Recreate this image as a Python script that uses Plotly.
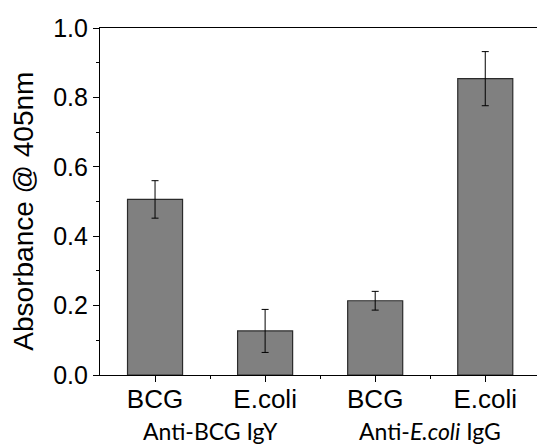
import plotly.graph_objects as go

categories = ["BCG", "E.coli", "BCG", "E.coli"]
positions = [1, 2, 3, 4]
values = [0.506, 0.127, 0.214, 0.854]
errors = [0.054, 0.062, 0.027, 0.078]
group_labels = ["Anti-BCG IgY", "Anti-<i>E.coli</i> IgG"]
group_positions = [1.5, 3.5]
y_ticks = [0.0, 0.2, 0.4, 0.6, 0.8, 1.0]
y_title = "Absorbance @ 405nm"

fig = go.Figure()
fig.add_trace(go.Bar(
    x=positions, y=values, width=0.5,
    marker=dict(color="#808080", line=dict(color="#2b2b2b", width=1.2)),
    error_y=dict(type="data", array=errors, visible=True, color="#000000",
                 thickness=1, width=3.5),
))

for gx, gl in zip(group_positions, group_labels):
    fig.add_annotation(x=gx, xref="x", y=-0.162, yref="paper", text=gl,
                       showarrow=False, yanchor="middle",
                       font=dict(family="Lato", size=23, color="#000000"))

fig.add_annotation(x=-0.176, xref="paper", y=0.471, yref="paper", text=y_title,
                   showarrow=False, textangle=-90, xanchor="center", yanchor="middle",
                   font=dict(family="Liberation Sans, Arial", size=28, color="#000000"))

fig.update_layout(
    width=537, height=445,
    margin=dict(l=100, r=0, t=28, b=70, autoexpand=False),
    paper_bgcolor="white", plot_bgcolor="white",
    showlegend=False,
    font=dict(family="Liberation Sans, Arial", color="#000000"),
)
fig.update_xaxes(
    range=[0.5, 4.47], tickvals=positions, ticktext=categories,
    showline=True, linecolor="#000000", linewidth=1.2, mirror=True,
    ticks="outside", ticklen=6, tickcolor="#000000", tickwidth=1,
    tickfont=dict(size=26), showgrid=False, zeroline=False, automargin=False,
    ticklabelstandoff=-5,
    minor=dict(tickvals=[1.5, 2.5, 3.5], ticks="outside", ticklen=3,
               tickcolor="#000000", tickwidth=1, showgrid=False),
)
fig.update_yaxes(
    range=[0, 1.0], tickvals=y_ticks, tickformat=".1f",
    showline=True, linecolor="#000000", linewidth=1.2, mirror=False,
    ticks="outside", ticklen=6, tickcolor="#000000", tickwidth=1,
    tickfont=dict(size=25), showgrid=False, zeroline=False, automargin=False,
    minor=dict(dtick=0.1, ticks="outside", ticklen=3, tickcolor="#000000",
               tickwidth=1, showgrid=False),
)

fig.write_html("out.html", config={"displayModeBar": False},
               post_script="document.body.style.margin='0';")
